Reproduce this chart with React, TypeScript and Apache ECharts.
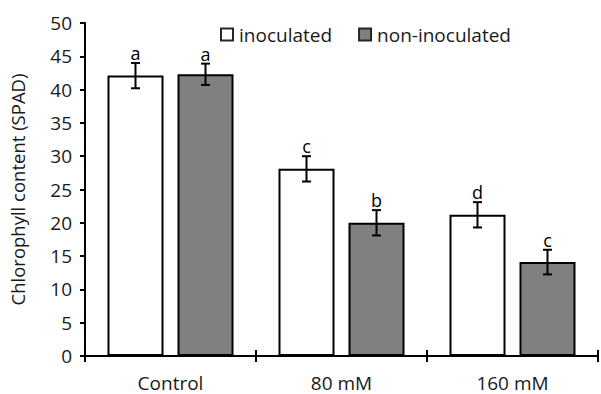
import React, { useEffect, useRef } from "react";
import * as echarts from "echarts";

const categories = ["Control", "80 mM", "160 mM"];
const seriesNames = ["inoculated", "non-inoculated"];
const inoculated = [42.1, 28.1, 21.2];
const nonInoculated = [42.3, 20.0, 14.1];
const inoculatedErr = [1.9, 1.9, 1.9];
const nonInoculatedErr = [1.6, 1.9, 1.85];
const inoculatedLetters = ["a", "c", "d"];
const nonInoculatedLetters = ["a", "b", "c"];
const yTicks = { min: 0, max: 50, interval: 5 };

const FONT = "Open Sans";
const BAR_W = 56;
const GAP = 14;

function errorSeries(values: number[], errs: number[], letters: string[], offset: number, name: string) {
  return {
    type: "custom",
    name: name + "-err",
    z: 5,
    silent: true,
    data: values.map((v, i) => [i, v, errs[i]]),
    renderItem: (params: any, api: any) => {
      const idx = api.value(0);
      const v = api.value(1);
      const e = api.value(2);
      const top = api.coord([idx, v + e]);
      const bot = api.coord([idx, v - e]);
      const x = top[0] + offset;
      const cap = 4.5;
      const st = { stroke: "#000", lineWidth: 2 };
      return {
        type: "group",
        children: [
          { type: "line", shape: { x1: x, y1: top[1], x2: x, y2: bot[1] }, style: st },
          { type: "line", shape: { x1: x - cap, y1: top[1], x2: x + cap, y2: top[1] }, style: st },
          { type: "line", shape: { x1: x - cap, y1: bot[1], x2: x + cap, y2: bot[1] }, style: st },
          {
            type: "text",
            style: {
              text: letters[params.dataIndex],
              x: x,
              y: top[1] - 1,
              align: "center",
              verticalAlign: "bottom",
              fontFamily: FONT,
              fontSize: 18,
              fill: "#000",
            },
          },
        ],
      };
    },
  };
}

export default function App() {
  const ref = useRef<HTMLDivElement>(null);
  useEffect(() => {
    if (!ref.current) return;
    const chart = echarts.init(ref.current, null, { renderer: "svg" });
    const axisText = { fontFamily: FONT, fontSize: 19, color: "#1a1a1a" };
    chart.setOption({
      animation: false,
      backgroundColor: "#fff",
      textStyle: { fontFamily: FONT },
      grid: { left: 85, right: 3, top: 23, bottom: 38, containLabel: false },
      legend: {
        left: 215,
        top: 20,
        icon: "rect",
        itemWidth: 12,
        itemHeight: 12,
        itemGap: 26,
        textStyle: { fontFamily: FONT, fontSize: 19, color: "#1a1a1a", padding: [0, 0, 0, 1] },
        data: seriesNames.map((n) => ({ name: n, itemStyle: { borderColor: "#262626", borderWidth: 2 } })),
      },
      xAxis: [
        {
          type: "category",
          data: categories,
          axisLine: { lineStyle: { color: "#000", width: 2 } },
          axisTick: { show: true, length: 6, lineStyle: { color: "#000", width: 2 } },
          axisLabel: { ...axisText, margin: 17 },
        },
        {
          type: "category",
          data: categories,
          position: "bottom",
          axisLine: { show: false },
          axisTick: { show: true, inside: true, length: 6, lineStyle: { color: "#000", width: 2 } },
          axisLabel: { show: false },
        },
      ],
      yAxis: {
        type: "value",
        min: yTicks.min,
        max: yTicks.max,
        interval: yTicks.interval,
        name: "Chlorophyll content (SPAD)",
        nameLocation: "middle",
        nameGap: 58,
        nameTextStyle: { fontFamily: FONT, fontSize: 18.5, color: "#1a1a1a" },
        axisLine: { show: true, lineStyle: { color: "#000", width: 2 } },
        axisTick: { show: true, length: 5, lineStyle: { color: "#000", width: 2 } },
        axisLabel: { ...axisText, margin: 13 },
        splitLine: { show: false },
      },
      series: [
        {
          type: "bar",
          name: seriesNames[0],
          data: inoculated,
          barWidth: BAR_W,
          barGap: (GAP / BAR_W) * 100 + "%",
          itemStyle: { color: "#ffffff", borderColor: "#000", borderWidth: 2 },
        },
        {
          type: "bar",
          name: seriesNames[1],
          data: nonInoculated,
          barWidth: BAR_W,
          itemStyle: { color: "#808080", borderColor: "#000", borderWidth: 2 },
        },
        errorSeries(inoculated, inoculatedErr, inoculatedLetters, -(BAR_W + GAP) / 2, seriesNames[0]),
        errorSeries(nonInoculated, nonInoculatedErr, nonInoculatedLetters, (BAR_W + GAP) / 2, seriesNames[1]),
      ],
    });
    return () => chart.dispose();
  }, []);
  return <div ref={ref} style={{ width: 601, height: 394, position: "absolute", left: 0, top: 0 }} />;
}
